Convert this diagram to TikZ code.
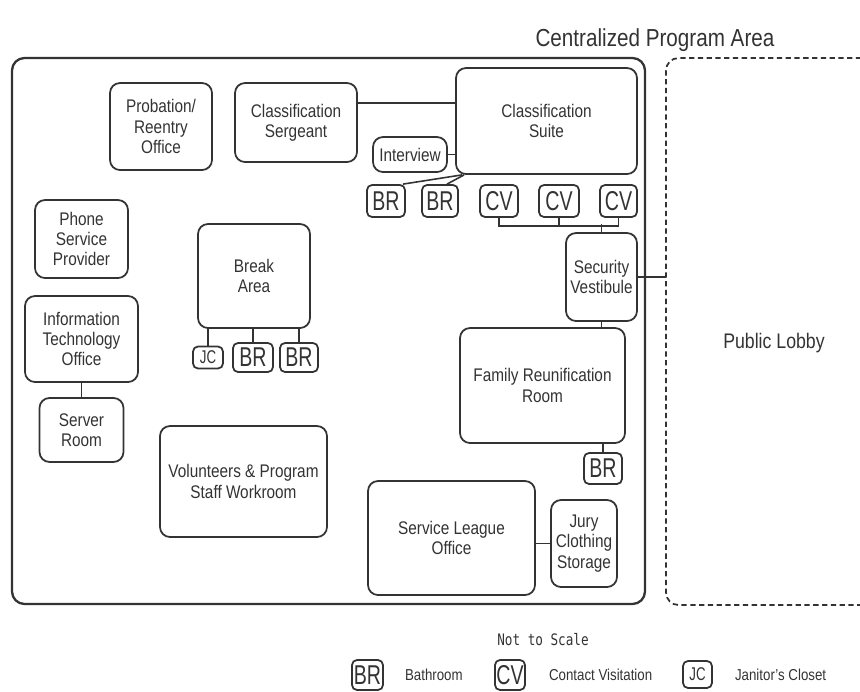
\documentclass[tikz,border=0pt]{standalone}
\usepackage{fontspec}
\setmainfont[FakeStretch=0.84]{Liberation Sans}
\newfontfamily\tagfont[FakeStretch=0.72]{Liberation Sans}
\newfontfamily\monofont[FakeStretch=0.8]{DejaVu Sans Mono}
\tikzset{>=latex}
\usetikzlibrary{positioning}
\definecolor{ink}{gray}{0.2}
\tikzset{
  room/.style 2 args={draw=ink, line width=1pt, rounded corners=0.2cm, align=center, text=ink, inner sep=1pt, minimum width=#1*0.02cm, minimum height=#2*0.02cm, font=\fontsize{10.4}{11.6}\selectfont},
  tag/.style 2 args={draw=ink, line width=1pt, rounded corners=0.1cm, text=ink, inner sep=0pt, minimum width=#1*0.02cm, minimum height=#2*0.02cm, font=\tagfont\fontsize{15.5}{15.5}\selectfont},
  link/.style={draw=ink, line width=0.9pt},
  legend/.style={text=ink, font=\fontsize{9}{9}\selectfont}
}

\begin{document}
\begin{tikzpicture}[x=0.02cm, y=-0.02cm]
  \useasboundingbox (0,0) rectangle (860,691);
  \node[text=ink, font=\fontsize{14}{14}\selectfont] (title) at (655,40) {Centralized Program Area};
  \draw[ink, line width=1.3pt, rounded corners=0.25cm] (12,58) rectangle (645,604);
  \draw[ink, line width=1pt, dash pattern=on 3pt off 2pt, rounded corners=0.25cm] (870,58) -| (666,605) -- (870,605);
  \coordinate (lobbyedge) at (666,277);
  \coordinate (sergy) at (0,103);
  \node[text=ink, font=\fontsize{12}{12}\selectfont] (lobby) at (774,343) {Public Lobby};

  \node[room={102}{87}] (prob) at (161,126.5) {Probation/\\Reentry\\Office};
  \node[room={122}{79}] (serg) at (296,122.5) {Classification\\Sergeant};
  \node[room={181}{106}] (suite) at (546.5,121) {Classification\\Suite};
  \node[room={74}{35}] (intv) at (410,154.5) {Interview};
  \node[tag={38}{32}] (br1) at (386,201) {BR};
  \node[tag={36}{32}] (br2) at (440,201) {BR};
  \node[tag={38}{32}] (cv1) at (499,201) {CV};
  \node[tag={40}{32}, right of=cv1, node distance=1.2cm] (cv2) {CV};
  \node[tag={37}{32}, right of=cv2, node distance=1.19cm] (cv3) {CV};

  \node[room={93}{78}] (phone) at (81.5,239) {Phone\\Service\\Provider};
  \node[room={113}{86}] (ito) at (81.5,339) {Information\\Technology\\Office};
  \node[room={84}{64}, below of=ito, node distance=1.82cm] (server) {Server\\Room};

  \node[room={112}{104}] (brk) at (254,276) {Break\\Area};
  \node[tag={30}{22}, font=\tagfont\fontsize{10.5}{10.5}\selectfont] (jc) at (208,357.5) {JC};
  \node[tag={40}{29}, right of=jc, node distance=0.9cm] (brb1) {BR};
  \node[tag={38}{29}, right of=brb1, node distance=0.92cm] (brb2) {BR};

  \node[room={71}{88}] (vest) at (601.5,277) {Security\\Vestibule};
  \node[room={165}{115}] (fam) at (542.5,385.5) {Family Reunification\\Room};
  \node[tag={38}{31}] (brf) at (603,468.5) {BR};
  \node[room={167}{111}] (vol) at (243.5,481.5) {Volunteers \& Program\\Staff Workroom};
  \node[room={167}{114}] (slo) at (451.5,538) {Service League\\Office};
  \node[room={66}{87}] (jury) at (584,543.5) {Jury\\Clothing\\Storage};

  \draw[link] (serg.east |- sergy) -- (suite.west |- sergy);
  \draw[link] (intv.east) -- (intv.east -| suite.west);
  \draw[link] ([xshift=-0.06cm]br1.north east) -- ([xshift=0.14cm]suite.south west);
  \draw[link] ([xshift=0.14cm]br2.north) -- ([xshift=0.18cm]suite.south west);
  \draw[link] (cv1.south) -- ++(0,8) -| (cv3.south);
  \draw[link] (cv2.south) -- ++(0,8);
  \draw[link] (vest.north) -- ++(0,-8);
  \draw[link] (vest.east) -- (vest.east -| lobbyedge);
  \draw[link] (vest.south) -- (vest.south |- fam.north);
  \draw[link] (brf.north) -- (brf.north |- fam.south);
  \draw[link] (jc.north) -- (jc.north |- brk.south);
  \draw[link] (brb1.north) -- (brb1.north |- brk.south);
  \draw[link] (brb2.north) -- (brb2.north |- brk.south);
  \draw[link] (ito.south) -- (ito.south |- server.north);
  \draw[link] (jury.west) -- (jury.west -| slo.east);

  \node[text=ink, font=\monofont\fontsize{9}{9}\selectfont] (scale) at (543,640) {Not to Scale};
  \node[tag={31}{30}] (lbr) at (367.5,675) {BR};
  \node[legend, right=0.3cm of lbr] (lbrt) {Bathroom};
  \node[tag={30}{30}] (lcv) at (510,675) {CV};
  \node[legend, right=0.34cm of lcv] (lcvt) {Contact Visitation};
  \node[tag={29}{27}, font=\tagfont\fontsize{10.5}{10.5}\selectfont] (ljc) at (697.5,674.5) {JC};
  \node[legend, right=0.32cm of ljc] (ljct) {Janitor's Closet};
\end{tikzpicture}
\end{document}
